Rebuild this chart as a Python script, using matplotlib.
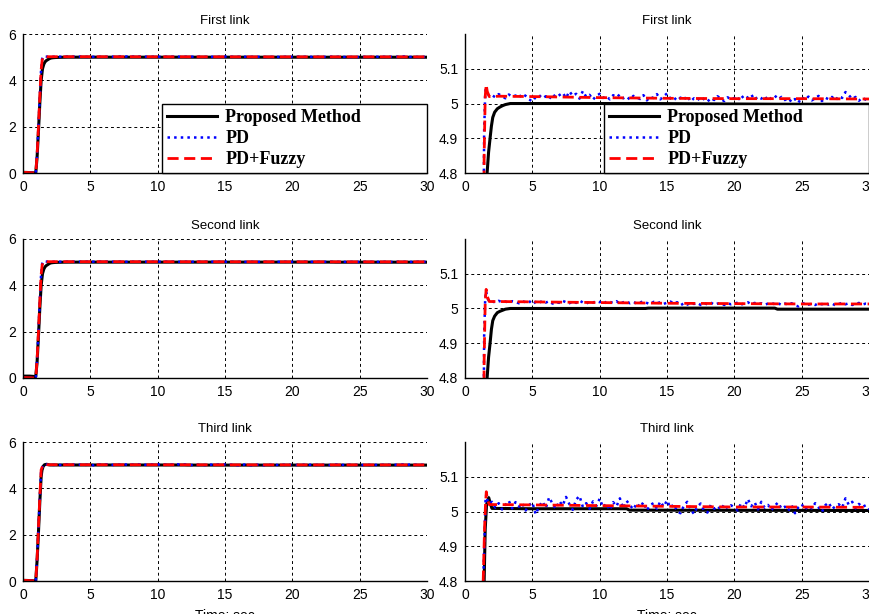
import numpy as np
from matplotlib import pyplot as plt

plt.rcParams['font.family'] = ['Liberation Sans', 'DejaVu Sans']

titles = ['First link', 'Second link', 'Third link']
labels = ['Proposed Method', 'PD', 'PD+Fuzzy']

## 稳态部分 PD 的采样时间
t_blue = np.arange(2.0, 30.01, 0.25)

## ---------- First link ----------
red_t1 = [0, 0.5, 0.95, 1.05, 1.15, 1.25, 1.34, 1.42, 1.5, 1.57, 1.65, 1.8, 2.5, 5, 10, 15, 20, 25, 30]
red_y1 = [0.03, 0.02, 0.0, 0.8, 2.0, 3.3, 4.4, 4.85, 5.02, 5.055, 5.035, 5.02, 5.021, 5.02, 5.017, 5.015, 5.014, 5.014, 5.013]
black_t1 = [0, 0.5, 0.95, 1.05, 1.15, 1.25, 1.35, 1.45, 1.55, 1.64, 1.75, 1.86, 1.96, 2.06, 2.2, 2.4, 2.6, 2.8, 3.0, 3.36, 13.5, 23.2, 30]
black_y1 = [0.03, 0.02, 0.0, 0.7, 1.8, 3.0, 4.0, 4.5, 4.7, 4.8, 4.86, 4.9, 4.935, 4.96, 4.975, 4.985, 4.99, 4.994, 4.997, 5.0, 5.0, 4.998, 4.998]
blue_rise_t1 = [0, 0.5, 0.95, 1.05, 1.15, 1.25, 1.34, 1.42, 1.5, 1.57, 1.65, 1.8]
blue_rise_y1 = [0.03, 0.02, 0.0, 0.8, 2.0, 3.3, 4.4, 4.92, 5.03, 5.05, 5.03, 5.022]
blue_y1 = [5.024, 5.018, 5.027, 5.021,
           5.015, 5.026, 5.019, 5.023,
           5.017, 5.028, 5.022, 5.012,
           5.006, 5.019, 5.024, 5.015,
           5.021, 5.013, 5.027, 5.018,
           5.024, 5.031, 5.016, 5.035,
           5.022, 5.028, 5.014, 5.036,
           5.019, 5.025, 5.011, 5.022,
           5.028, 5.016, 5.021, 5.012,
           5.024, 5.018, 5.026, 5.015,
           5.020, 5.011, 5.022, 5.017,
           5.013, 5.024, 5.009, 5.019,
           5.016, 5.027, 5.012, 5.021,
           5.029, 5.014, 5.018, 5.008,
           5.017, 5.011, 5.022, 5.006,
           5.015, 5.009, 5.019, 5.012,
           5.005, 5.016, 5.010, 5.021,
           5.013, 5.007, 5.018, 5.011,
           5.016, 5.009, 5.024, 5.012,
           5.018, 5.026, 5.011, 5.020,
           5.014, 5.022, 5.008, 5.017,
           5.023, 5.012, 5.019, 5.010,
           5.016, 5.004, 5.013, 5.002,
           5.018, 5.011, 5.020, 5.009,
           5.015, 5.022, 5.007, 5.017,
           5.012, 5.019, 5.009, 5.021,
           5.016, 5.033, 5.024, 5.013,
           5.019, 5.008, 5.017, 5.011,
           5.014]

## ---------- Second link ----------
red_t2 = [0, 0.5, 0.95, 1.05, 1.15, 1.25, 1.34, 1.42, 1.5, 1.57, 1.65, 1.8, 2.5, 5, 10, 15, 20, 25, 30]
red_y2 = [0.02, 0.01, 0.0, 0.8, 2.0, 3.3, 4.4, 4.85, 5.02, 5.055, 5.035, 5.02, 5.02, 5.019, 5.017, 5.015, 5.014, 5.013, 5.013]
black_t2 = [0, 0.5, 0.95, 1.05, 1.15, 1.25, 1.35, 1.45, 1.55, 1.64, 1.75, 1.86, 1.96, 2.06, 2.2, 2.4, 2.6, 2.8, 3.0, 3.36, 13.4, 13.6, 23.0, 23.2, 30]
black_y2 = [0.08, 0.08, 0.06, 0.7, 1.8, 3.0, 4.0, 4.5, 4.7, 4.8, 4.86, 4.9, 4.94, 4.965, 4.978, 4.988, 4.992, 4.995, 4.998, 5.0, 5.0, 5.001, 5.001, 4.998, 4.998]
blue_rise_t2 = [0, 0.5, 0.95, 1.05, 1.15, 1.25, 1.34, 1.42, 1.5, 1.57, 1.65, 1.8]
blue_rise_y2 = [0.02, 0.01, 0.0, 0.8, 2.0, 3.3, 4.4, 4.92, 5.03, 5.05, 5.03, 5.021]
blue_y2 = [5.021, 5.017, 5.022, 5.018,
           5.020, 5.016, 5.021, 5.019,
           5.015, 5.021, 5.018, 5.022,
           5.012, 5.019, 5.016, 5.022,
           5.017, 5.021, 5.014, 5.019,
           5.016, 5.022, 5.018, 5.015,
           5.021, 5.016, 5.023, 5.017,
           5.014, 5.020, 5.017, 5.021,
           5.018, 5.023, 5.015, 5.019,
           5.016, 5.021, 5.013, 5.018,
           5.020, 5.015, 5.019, 5.014,
           5.017, 5.021, 5.016, 5.012,
           5.019, 5.015, 5.018, 5.013,
           5.017, 5.020, 5.014, 5.018,
           5.009, 5.015, 5.011, 5.017,
           5.013, 5.016, 5.010, 5.015,
           5.012, 5.017, 5.011, 5.014,
           5.016, 5.010, 5.015, 5.012,
           5.014, 5.017, 5.011, 5.015,
           5.018, 5.012, 5.016, 5.013,
           5.015, 5.011, 5.014, 5.016,
           5.012, 5.015, 5.010, 5.014,
           5.011, 5.015, 5.009, 5.006,
           5.013, 5.016, 5.011, 5.014,
           5.010, 5.015, 5.012, 5.016,
           5.011, 5.014, 5.009, 5.013,
           5.016, 5.012, 5.015, 5.010,
           5.013, 5.016, 5.011, 5.014,
           5.013]

## ---------- Third link ----------
red_t3 = [0, 0.5, 0.95, 1.05, 1.15, 1.25, 1.35, 1.45, 1.52, 1.58, 1.66, 1.8, 2.5, 5, 10, 15, 20, 25, 30]
red_y3 = [0.03, 0.02, 0.0, 1.0, 2.3, 3.6, 4.8, 4.95, 5.02, 5.057, 5.035, 5.02, 5.02, 5.019, 5.017, 5.015, 5.013, 5.013, 5.012]
black_t3 = [0, 0.5, 0.95, 1.05, 1.15, 1.25, 1.35, 1.41, 1.5, 1.6, 1.76, 1.9, 2.0, 5, 10, 12, 12.2, 30]
black_y3 = [0.03, 0.02, 0.0, 0.9, 2.1, 3.4, 4.5, 4.78, 4.95, 5.02, 5.04, 5.02, 5.009, 5.008, 5.008, 5.008, 5.004, 5.003]
blue_rise_t3 = [0, 0.5, 0.95, 1.05, 1.15, 1.25, 1.35, 1.45, 1.52, 1.58, 1.66, 1.8]
blue_rise_y3 = [0.03, 0.02, 0.0, 1.0, 2.3, 3.6, 4.8, 4.92, 5.03, 5.05, 5.032, 5.022]
blue_y3 = [5.028, 5.011, 5.024, 5.006,
           5.019, 5.031, 5.009, 5.027,
           5.014, 5.024, 5.003, 5.018,
           5.026, 4.992, 5.015, 5.029,
           5.010, 5.041, 5.022, 5.008,
           5.030, 5.017, 5.042, 5.021,
           5.005, 5.034, 5.045, 5.013,
           5.024, 5.008, 5.029, 5.016,
           5.037, 5.012, 5.023, 5.004,
           5.027, 5.015, 5.038, 5.009,
           5.031, 5.018, 5.006, 5.024,
           5.012, 5.027, 5.003, 5.019,
           5.024, 5.008, 5.029, 5.014,
           5.032, 5.011, 5.021, 5.001,
           4.995, 5.017, 5.028, 5.006,
           4.993, 5.014, 5.023, 5.002,
           4.997, 5.019, 5.008, 5.016,
           5.005, 5.021, 5.009, 5.018,
           5.012, 5.003, 5.024, 5.011,
           5.036, 5.015, 5.027, 5.006,
           5.028, 5.011, 5.019, 5.004,
           5.017, 5.026, 5.008, 5.014,
           5.002, 5.018, 4.995, 5.012,
           5.021, 5.006, 5.017, 5.009,
           5.024, 5.012, 4.999, 5.018,
           5.026, 5.007, 5.015, 5.021,
           5.011, 5.038, 5.019, 5.028,
           5.009, 5.022, 5.013, 5.018,
           5.006]

links = [
    (black_t1, black_y1, blue_rise_t1, blue_rise_y1, blue_y1, red_t1, red_y1),
    (black_t2, black_y2, blue_rise_t2, blue_rise_y2, blue_y2, red_t2, red_y2),
    (black_t3, black_y3, blue_rise_t3, blue_rise_y3, blue_y3, red_t3, red_y3),
]

## 绘制图像
fig = plt.figure(dpi=100, figsize=(8.7, 6.14))

bottoms = [0.7182, 0.3844, 0.0537]
h = 0.2264
lefts = [0.0264, 0.5345]
w = 0.4644

for i, (bt, by, brt, bry, bly, rt, ry) in enumerate(links):
    blue_t = list(brt) + list(t_blue)
    blue_v = list(bry) + list(bly)
    for j in range(2):
        ax = fig.add_axes([lefts[j], bottoms[i], w, h])
        ax.plot(bt, by, c='black', lw=2.2, label=labels[0])
        ax.plot(blue_t, blue_v, c='blue', lw=1.8, ls=':', label=labels[1])
        ax.plot(rt, ry, c='red', lw=2.0, ls=(0, (4, 2)), label=labels[2])

        ax.set_xlim(0, 30)
        ax.set_xticks([0, 5, 10, 15, 20, 25, 30])
        if j == 0:
            ax.set_ylim(0, 6)
            ax.set_yticks([0, 2, 4, 6])
        else:
            ax.set_ylim(4.8, 5.2)
            ax.set_yticks([4.8, 4.9, 5.0, 5.1])
            ax.set_yticklabels(['4.8', '4.9', '5', '5.1'])

        ax.set_title(titles[i], fontsize=9.5, pad=7)
        ax.grid(True, color='black', ls=(0, (3, 3)), lw=0.7)
        ax.set_axisbelow(True)
        ax.spines['top'].set_visible(False)
        ax.spines['right'].set_visible(False)
        ax.spines['left'].set_linewidth(1.0)
        ax.spines['bottom'].set_linewidth(1.0)
        ax.tick_params(axis='both', length=0, pad=5, labelsize=10)

        if i == 2:
            ax.set_xlabel('Time: sec', fontsize=10, labelpad=5)

        if i == 0:
            leg = ax.legend(loc='lower left', bbox_to_anchor=(0.343, 0, 0.657, 0.5),
                            mode='expand', borderaxespad=0,
                            prop={'family': 'Liberation Serif', 'weight': 'bold', 'size': 13},
                            handlelength=2.8, handletextpad=0.45, labelspacing=0.22,
                            borderpad=0.28, fancybox=False, edgecolor='black', framealpha=1)
            leg.get_frame().set_linewidth(1.0)

plt.savefig('out.png', dpi=100)
